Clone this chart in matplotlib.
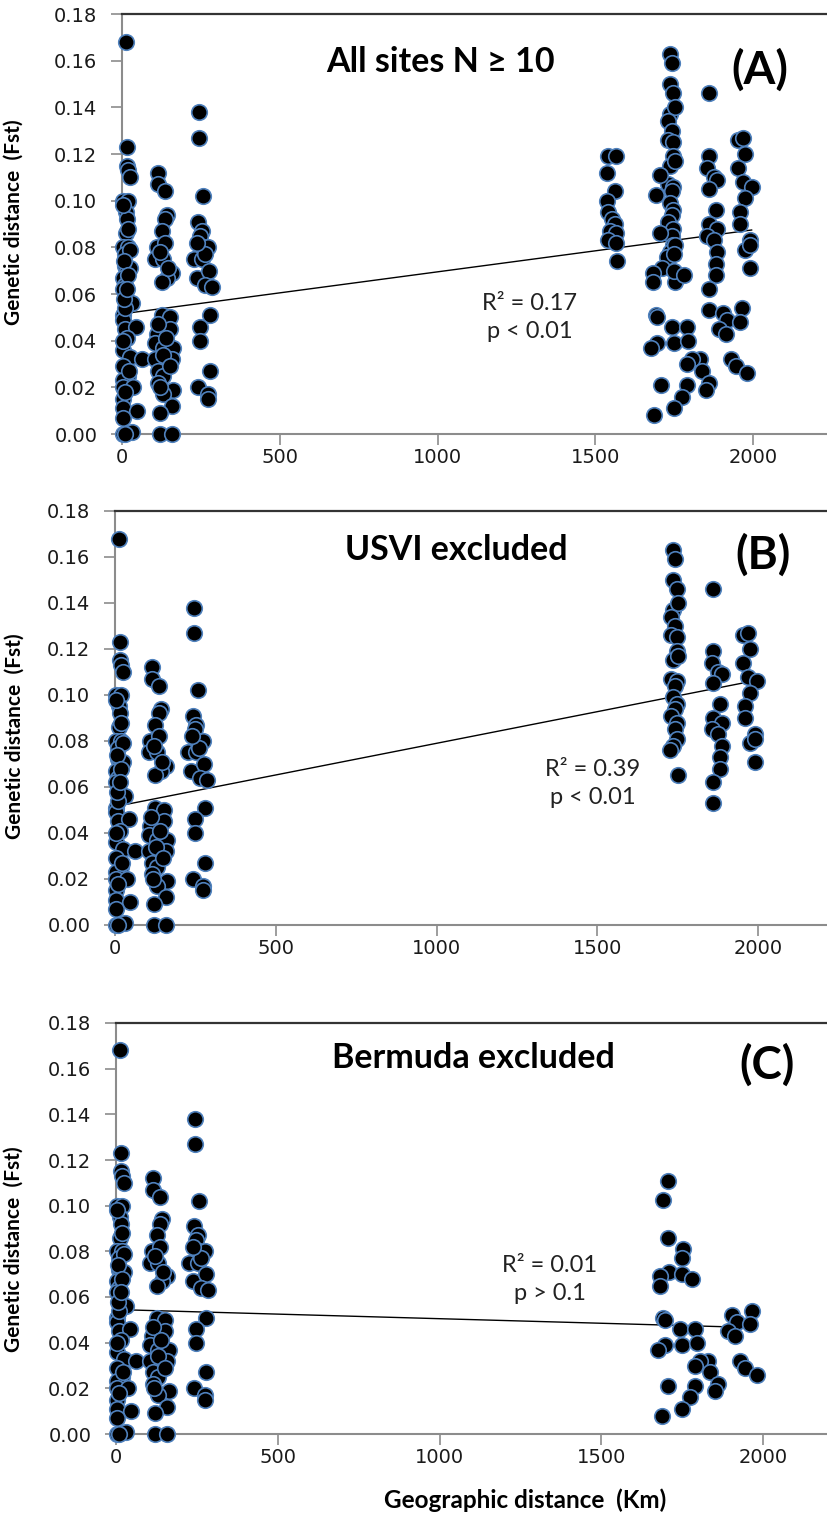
"""Fst vs geographic distance, three panels (all sites / USVI excluded / Bermuda excluded)."""

import matplotlib

matplotlib.use("Agg")
import matplotlib.pyplot as plt  # noqa: E402
import numpy as np  # noqa: E402

# ---- data (km, Fst) ----
# pairs within the western cluster of sites (present in all three panels)
near_km = [12, 14, 14, 19, 24, 1, 19, 12, 14, 12, 1, 19, 9, 24, 9, 14, 3, 9, 1, 30,
           1, 3, 9, 43, 1, 24, 61, 3, 19, 1, 3, 35, 1, 3, 46, 1, 1, 30, 9,
           9, 14, 24, 3, 19, 6, 17, 4, 21, 8, 2, 15,
           114, 114, 135, 141, 135, 125, 109, 135, 104, 130, 157, 141, 125, 125, 151,
           109, 151, 104, 130, 162, 104, 157, 114, 130, 114, 162, 130, 157, 120, 120, 157,
           120, 145, 112, 138, 128, 150, 118,
           244, 244, 257, 241, 252, 247, 226, 257, 252, 273, 236, 276, 263, 284, 278,
           247, 247, 278, 241, 273, 273, 262, 238]
near_fst = [0.168, 0.123, 0.115, 0.113, 0.110, 0.100, 0.100, 0.095, 0.092, 0.086, 0.080,
            0.080, 0.077, 0.079, 0.072, 0.070, 0.067, 0.064, 0.062, 0.056,
            0.051, 0.049, 0.045, 0.046, 0.036, 0.033, 0.032, 0.029, 0.025, 0.023, 0.020,
            0.020, 0.015, 0.011, 0.010, 0.007, 0.000, 0.001, 0.000,
            0.054, 0.041, 0.071, 0.098, 0.088, 0.074, 0.068, 0.058, 0.027, 0.018, 0.040,
            0.062,
            0.112, 0.107, 0.104, 0.094, 0.092, 0.087, 0.080, 0.082, 0.075, 0.075, 0.069,
            0.067, 0.065, 0.051, 0.050, 0.043, 0.045, 0.039, 0.037, 0.037, 0.032, 0.032,
            0.027, 0.025, 0.022, 0.019, 0.017, 0.012, 0.009, 0.000, 0.000,
            0.078, 0.071, 0.047, 0.041, 0.034, 0.029, 0.020,
            0.138, 0.127, 0.102, 0.091, 0.087, 0.085, 0.075, 0.080, 0.075, 0.080, 0.067,
            0.070, 0.064, 0.063, 0.051, 0.046, 0.040, 0.027, 0.020, 0.017, 0.015, 0.077,
            0.082]

# USVI <-> Bermuda pairs (panel A only)
ub_km = [1541, 1566, 1536, 1562, 1536, 1541, 1552, 1562, 1546, 1566, 1541, 1566, 1568]
ub_fst = [0.119, 0.119, 0.112, 0.104, 0.100, 0.095, 0.092, 0.090, 0.087, 0.086, 0.083,
          0.082, 0.074]

# Bermuda pairs (panels A and B)
berm_km = [1737, 1742, 1737, 1747, 1737, 1752, 1731, 1742, 1731, 1747, 1747, 1737, 1752,
           1731, 1747, 1742, 1737, 1747, 1742, 1731, 1747, 1742, 1747, 1737, 1726, 1752,
           1861, 1861, 1856, 1877, 1887, 1861, 1882, 1861, 1887, 1856, 1877, 1887, 1882,
           1882, 1861, 1861,
           1954, 1970, 1975, 1954, 1970, 1996, 1975, 1960, 1960, 1991, 1975, 1991, 1991]
berm_fst = [0.163, 0.159, 0.150, 0.146, 0.137, 0.140, 0.134, 0.130, 0.126, 0.125, 0.119,
            0.115, 0.117, 0.107, 0.106, 0.104, 0.099, 0.096, 0.094, 0.091, 0.088, 0.085,
            0.081, 0.078, 0.076, 0.065,
            0.146, 0.119, 0.114, 0.110, 0.109, 0.105, 0.096, 0.090, 0.088, 0.085, 0.083,
            0.078, 0.073, 0.068, 0.062, 0.053,
            0.126, 0.127, 0.120, 0.114, 0.108, 0.106, 0.101, 0.095, 0.090, 0.083, 0.079,
            0.081, 0.071]

# USVI pairs (panels A and C)
usvi_km = [1705, 1692, 1705, 1752, 1749, 1711, 1682, 1749, 1780, 1682, 1692, 1697, 1744,
           1790, 1904, 1965, 1919, 1960, 1893, 1914, 1697, 1677, 1749, 1795, 1831, 1806,
           1790, 1837, 1929, 1945, 1981, 1708, 1790, 1862, 1852, 1775, 1749, 1687]
usvi_fst = [0.111, 0.1025, 0.086, 0.081, 0.077, 0.071, 0.069, 0.070, 0.068, 0.065, 0.051,
            0.050, 0.046, 0.046, 0.052, 0.054, 0.049, 0.048, 0.045, 0.043, 0.039, 0.037,
            0.039, 0.040, 0.032, 0.032, 0.030, 0.027, 0.032, 0.029, 0.026, 0.021, 0.021,
            0.022, 0.019, 0.016, 0.011, 0.008]

# linear trendlines as printed (intercept, slope per km)
trend_a = (0.0515, 1.80e-5)
trend_b = (0.0515, 2.75e-5)
trend_c = (0.0545, -4.0e-6)

titles = ["All sites N \u2265 10", "USVI excluded", "Bermuda excluded"]
tags = ["(A)", "(B)", "(C)"]
r2_text = ["R\u00b2 = 0.17\np < 0.01", "R\u00b2 = 0.39\np < 0.01", "R\u00b2 = 0.01\np > 0.1"]
yticks = [0.00, 0.02, 0.04, 0.06, 0.08, 0.10, 0.12, 0.14, 0.16, 0.18]
xticks = [0, 500, 1000, 1500, 2000]

# ---- panels ----
W, H = 827, 1515
fig = plt.figure(figsize=(W / 100, H / 100), dpi=100)
BOLD = ["Lato", "DejaVu Sans"]

panels = [
    dict(x=near_km + ub_km + berm_km + usvi_km, y=near_fst + ub_fst + berm_fst + usvi_fst,
         trend=trend_a, px=(122.3, 14, 434), xmax=(827 - 122.3) / 0.3153,
         title_xy=(0.451, 0.885), tag_xy=(0.905, 0.867), r2_xy=(0.578, 0.277),
         ylab_xy=(-0.1395, 0.505)),
    dict(x=near_km + berm_km, y=near_fst + berm_fst,
         trend=trend_b, px=(115.3, 511, 925), xmax=(827 - 115.3) / 0.3213,
         title_xy=(0.479, 0.906), tag_xy=(0.910, 0.894), r2_xy=(0.671, 0.342),
         ylab_xy=(-0.128, 0.457)),
    dict(x=near_km + usvi_km, y=near_fst + usvi_fst,
         trend=trend_c, px=(116.3, 1023, 1434), xmax=(827 - 116.3) / 0.3233,
         title_xy=(0.502, 0.915), tag_xy=(0.916, 0.898), r2_xy=(0.610, 0.375),
         ylab_xy=(-0.130, 0.450)),
]

for i, p in enumerate(panels):
    left, top, bot = p["px"]
    ax = fig.add_axes([left / W, 1 - bot / H, (W - left) / W, (bot - top) / H])
    ax.scatter(p["x"], p["y"], s=125, c="black", edgecolors="#4F81BD", linewidths=1.2,
               zorder=3, clip_on=False)
    xs = np.array([min(p["x"]), max(p["x"])])
    b0, b1 = p["trend"]
    ax.plot(xs, b0 + b1 * xs, color="black", lw=1.0, zorder=2)

    ax.set_xlim(0, p["xmax"])
    ax.set_ylim(0, 0.18)
    ax.set_xticks(xticks)
    ax.set_yticks(yticks)
    ax.set_yticklabels([f"{v:.2f}" for v in yticks])
    ax.tick_params(axis="both", direction="out", length=8, width=1.2, color="#8c8c8c",
                   labelsize=14, labelcolor="#1a1a1a")
    ax.tick_params(axis="y", pad=10)
    ax.tick_params(axis="x", pad=2)
    for side in ("left", "bottom"):
        ax.spines[side].set_color("#8c8c8c")
        ax.spines[side].set_linewidth(1.5)
    ax.spines["top"].set_color("#333333")
    ax.spines["top"].set_linewidth(1.6)
    ax.spines["right"].set_visible(False)

    ax.set_ylabel("Genetic distance  (Fst)", fontsize=15, fontweight="bold", family=BOLD)
    ax.yaxis.set_label_coords(*p["ylab_xy"])

    ax.text(*p["title_xy"], titles[i], transform=ax.transAxes, ha="center", va="center",
            fontsize=24.5, fontweight="bold", family=BOLD)
    ax.text(*p["tag_xy"], tags[i], transform=ax.transAxes, ha="center", va="center",
            fontsize=33, fontweight="bold", family=BOLD)
    ax.text(*p["r2_xy"], r2_text[i], transform=ax.transAxes, ha="center", va="center",
            fontsize=17, family=BOLD, linespacing=1.4, color="#222222")

fig.text(525 / W, 1 - 1500 / H, "Geographic distance  (Km)", ha="center", va="center",
         fontsize=17.5, fontweight="bold", family=BOLD)

fig.savefig("out.png", dpi=100)
